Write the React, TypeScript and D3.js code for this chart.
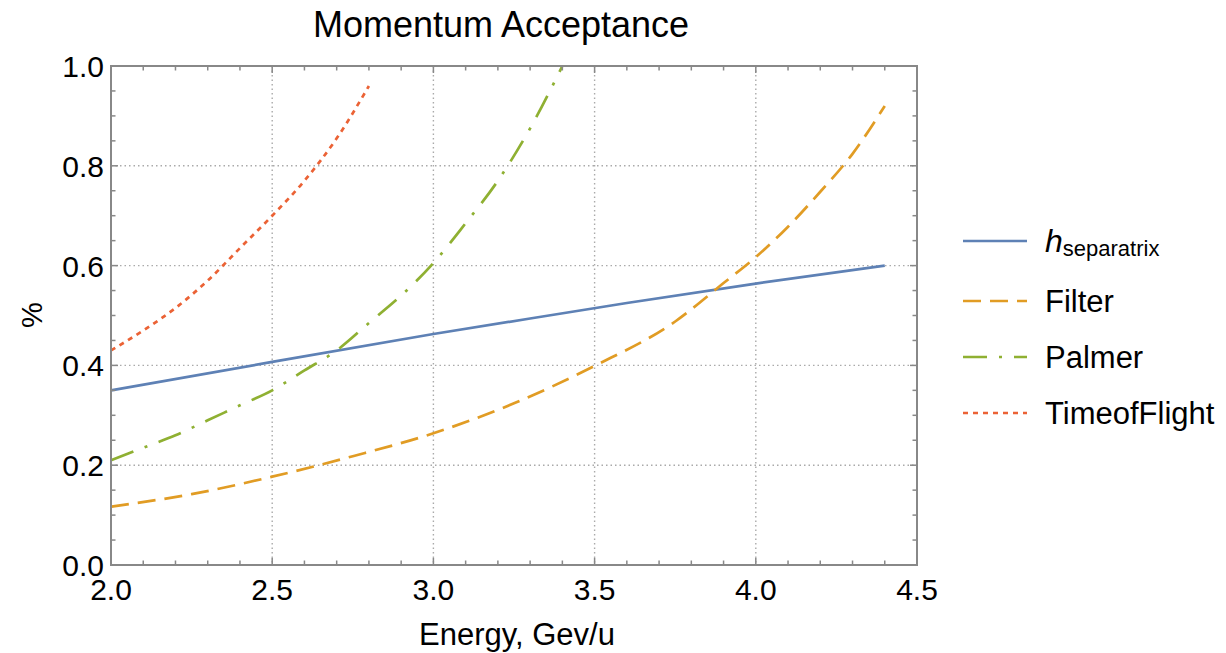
import React from 'react';
import * as d3 from 'd3';

// Momentum acceptance (%) vs energy (GeV/u)
const sepEnergy = [2.0, 2.5, 3.0, 3.3, 3.6, 4.0, 4.4];
const sepValues = [0.35, 0.407, 0.463, 0.494, 0.525, 0.564, 0.6];

const filterEnergy = [2.0, 2.25, 2.5, 2.75, 3.0, 3.25, 3.5, 3.75, 3.9, 4.0, 4.1, 4.2, 4.3, 4.4];
const filterValues = [0.117, 0.142, 0.177, 0.218, 0.264, 0.324, 0.399, 0.488, 0.565, 0.617, 0.678, 0.748, 0.824, 0.92];

const palmerEnergy = [2.0, 2.1, 2.2, 2.3, 2.4, 2.5, 2.6, 2.7, 2.8, 2.9, 3.0, 3.1, 3.2, 3.3, 3.4];
const palmerValues = [0.21, 0.235, 0.26, 0.29, 0.32, 0.35, 0.39, 0.43, 0.485, 0.54, 0.605, 0.685, 0.77, 0.875, 1.0];

const tofEnergy = [2.0, 2.1, 2.2, 2.3, 2.4, 2.5, 2.6, 2.7, 2.8];
const tofValues = [0.43, 0.47, 0.515, 0.57, 0.635, 0.7, 0.77, 0.855, 0.96];

const xTickLabels = ['2.0', '2.5', '3.0', '3.5', '4.0', '4.5'];
const yTickLabels = ['0.0', '0.2', '0.4', '0.6', '0.8', '1.0'];

const FONT = '"Liberation Sans", Arial, sans-serif';

const series = [
  { name: 'separatrix', x: sepEnergy, y: sepValues, color: '#5E81B5', dash: null, curve: d3.curveLinear },
  { name: 'Filter', x: filterEnergy, y: filterValues, color: '#E19C24', dash: '18,9', curve: d3.curveMonotoneX },
  { name: 'Palmer', x: palmerEnergy, y: palmerValues, color: '#8FB032', dash: '24,12,3,12', curve: d3.curveMonotoneX },
  { name: 'TimeofFlight', x: tofEnergy, y: tofValues, color: '#EB6235', dash: '5,5', curve: d3.curveMonotoneX },
];

export default function App() {
  const left = 111, right = 917, top = 66, bottom = 565;
  const x = d3.scaleLinear().domain([2, 4.5]).range([left, right]);
  const y = d3.scaleLinear().domain([0, 1]).range([bottom, top]);

  const xMinor = d3.range(2, 4.5001, 0.1);
  const yMinor = d3.range(0, 1.0001, 0.05);
  const xMajor = xTickLabels.map(Number);
  const yMajor = yTickLabels.map(Number);
  const isMajor = (v: number, step: number) => Math.abs(v / step - Math.round(v / step)) < 1e-6;

  const frame = '#888';

  return (
    <svg width={1226} height={653} style={{ position: 'absolute', left: 0, top: 0, background: '#fff' }}>
      <text x={501} y={37} textAnchor="middle" fontFamily={FONT} fontSize={36} fill="#000">
        Momentum Acceptance
      </text>

      {/* grid */}
      {xMajor.slice(1, -1).map((v) => (
        <line key={'gx' + v} x1={x(v)} x2={x(v)} y1={top} y2={bottom} stroke="#aaa" strokeWidth={1.4} strokeDasharray="1.5,3" />
      ))}
      {yMajor.slice(1, -1).map((v) => (
        <line key={'gy' + v} x1={left} x2={right} y1={y(v)} y2={y(v)} stroke="#aaa" strokeWidth={1.4} strokeDasharray="1.5,3" />
      ))}

      {/* series */}
      {series.map((s) => {
        const pts: [number, number][] = s.x.map((e, i) => [e, s.y[i]]);
        const line = d3.line<[number, number]>()
          .x((d) => x(d[0]))
          .y((d) => y(d[1]))
          .curve(s.curve);
        return (
          <path key={s.name} d={line(pts) || ''} fill="none" stroke={s.color} strokeWidth={2.7}
            strokeDasharray={s.dash || undefined} strokeLinecap="butt" strokeLinejoin="round" />
        );
      })}

      {/* frame + ticks */}
      <rect x={left} y={top} width={right - left} height={bottom - top} fill="none" stroke={frame} strokeWidth={2} />
      {xMinor.map((v) => {
        const len = isMajor(v, 0.5) ? 7 : 4.5;
        return (
          <g key={'tx' + v}>
            <line x1={x(v)} x2={x(v)} y1={bottom} y2={bottom - len} stroke={frame} strokeWidth={1.5} />
            <line x1={x(v)} x2={x(v)} y1={top} y2={top + len} stroke={frame} strokeWidth={1.5} />
          </g>
        );
      })}
      {yMinor.map((v) => {
        const len = isMajor(v, 0.2) ? 7 : 4.5;
        return (
          <g key={'ty' + v}>
            <line x1={left} x2={left + len} y1={y(v)} y2={y(v)} stroke={frame} strokeWidth={1.5} />
            <line x1={right} x2={right - len} y1={y(v)} y2={y(v)} stroke={frame} strokeWidth={1.5} />
          </g>
        );
      })}

      {xTickLabels.map((t) => (
        <text key={'lx' + t} x={x(+t)} y={600} textAnchor="middle" fontFamily={FONT} fontSize={30} fill="#000">{t}</text>
      ))}
      {yTickLabels.map((t) => (
        <text key={'ly' + t} x={104} y={y(+t) + 11} textAnchor="end" fontFamily={FONT} fontSize={30} fill="#000">{t}</text>
      ))}

      <text x={517} y={645} textAnchor="middle" fontFamily={FONT} fontSize={31} fill="#000">Energy, Gev/u</text>
      <text transform="translate(42,315) rotate(-90)" textAnchor="middle" fontFamily={FONT} fontSize={29} fill="#000">%</text>

      {/* legend */}
      {series.map((s, i) => {
        const ly = [241, 301, 357, 413][i];
        return (
          <g key={'lg' + s.name}>
            <line x1={963} x2={1027} y1={ly} y2={ly} stroke={s.color} strokeWidth={2.7} strokeDasharray={s.dash || undefined} />
            {i === 0 ? (
              <text x={1045} y={ly + 11} fontFamily={FONT} fill="#000">
                <tspan fontStyle="italic" fontSize={32}>h</tspan>
                <tspan fontSize={22} dy={4}>separatrix</tspan>
              </text>
            ) : (
              <text x={1045} y={ly + 11} fontFamily={FONT} fontSize={31} fill="#000">{s.name}</text>
            )}
          </g>
        );
      })}
    </svg>
  );
}
